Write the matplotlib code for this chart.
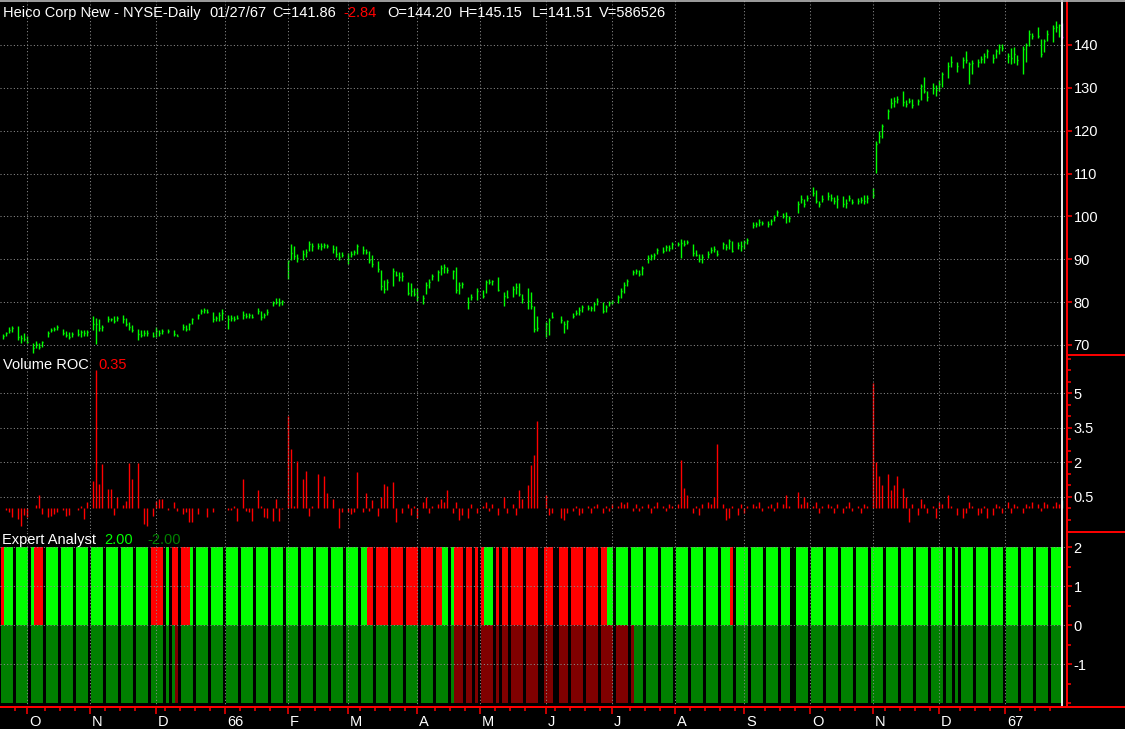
import numpy as np
import matplotlib
matplotlib.use("Agg")
import matplotlib.pyplot as plt
from matplotlib.lines import Line2D
from matplotlib.ticker import FixedLocator, MultipleLocator
import matplotlib.transforms as mtransforms

N = np.nan

# one row per week (5 day slots; empty slot = no trading)
highs = [
    72.6, 73.0, 74.1, 74.5, N,   74.4, 72.3, 72.7, 72.1, N,   70.4, 70.9, 70.4, 70.9, N,
    73.3, 74.0, 74.1, 74.7, N,   73.7, 73.3, 73.0, 73.1, N,   73.7, 73.5, 73.5, 73.5, N,
    76.7, 76.4, 76.0, 74.7, N,   76.7, 76.4, 76.7, 76.7, N,   77.0, 76.4, 75.4, 74.7, N,
    73.7, 73.6, 73.6, 73.6, N,   73.1, 74.1, 73.5, 73.7, N,   73.8, N, 73.5, 72.6, N,
    74.8, 74.7, 75.2, 76.4, N,   77.2, 78.5, 78.6, 78.5, N,   77.7, 76.7, 77.7, 78.3, N,
    77.1, 77.0, 76.7, 77.0, N,   77.9, 77.5, 77.4, 77.2, N,   78.6, 78.0, 77.4, 78.3, N,
    80.3, 80.9, 80.9, 80.6, N,   89.9, 93.6, 93.2, 91.3, N,   92.1, 92.5, 94.2, 93.8, N,
    93.9, 93.8, 93.8, 93.6, N,   93.3, 93.0, 91.7, 91.6, N,   91.5, 91.9, 92.1, 93.6, N,
    93.0, 92.5, 91.9, 90.9, N,   89.6, 87.4, 85.1, 85.5, N,   88.0, 87.3, 87.0, 87.0, N,
    84.7, 84.5, 83.2, 83.2, N,   81.6, 84.7, 85.5, 86.5, N,   87.4, 88.6, 88.8, 88.1, N,
    87.6, 88.1, 84.7, 84.7, N,   81.1, 82.0, N, 83.2, N,      82.8, 85.1, 85.5, 85.1, N,
    85.9, N, 82.4, 82.9, N,      83.7, 84.5, 84.5, 81.9, N,   83.2, 82.4, 79.1, 76.7, N,
    N, 75.4, 76.4, 77.6, N,      N, 76.7, 75.6, 75.8, N,      77.5, 78.1, 78.8, 79.3, N,
    79.3, 79.1, 80.1, 80.9, N,   80.1, 79.3, 80.3, 80.6, N,   81.6, 83.2, 84.7, 85.3, N,
    87.6, 87.8, 87.6, 88.4, N,   90.9, 91.3, 91.5, 92.7, N,   92.9, 93.3, 93.3, 94.0, N,
    94.0, 94.8, 94.6, 94.4, N,   93.5, 92.1, 91.2, 91.2, N,   91.9, 92.9, 93.0, 92.2, N,
    94.0, 93.6, 94.8, 94.3, N,   94.0, 94.3, 94.6, 95.0, N,   98.7, 98.7, 99.3, 98.9, N,
    98.9, 99.5, 100.3, 101.4, N, 100.8, 101.1, 100.2, N, N,   103.6, 104.9, 104.1, 104.9, N,
    106.8, 106.2, 103.7, 104.9, N, 105.7, 105.3, 104.5, 105.1, N, 104.7, 104.1, 105.1, 104.1, N,
    104.3, 104.5, 104.9, 104.9, N, 106.7, 117.7, 120.0, 121.6, N, 125.0, 127.6, 127.9, 128.1, N,
    129.3, 127.1, 127.6, 127.4, N, 127.4, 131.0, 132.6, 129.3, N, 131.2, 130.7, 131.8, 133.7, N,
    136.1, 137.4, N, 136.0, N,   137.1, 138.6, 136.1, 136.4, N, 136.7, 137.4, 138.2, 139.0, N,
    138.0, 139.0, 140.2, 140.2, N, 138.2, 139.4, 139.5, 137.7, N, 139.8, 140.5, 143.4, 142.9, N,
    144.2, 141.3, 141.3, 143.4, N, 144.7, 145.7, 144.8, 145.15,
]
lows = [
    71.3, 72.0, 72.7, 73.1, N,   71.2, 70.5, 71.0, 70.4, N,   68.2, 69.2, 69.1, 69.5, N,
    71.9, 73.1, 73.3, 73.6, N,   72.3, 71.8, 71.5, 71.9, N,   72.1, 71.9, 72.2, 72.1, N,
    73.5, 70.2, 73.3, 73.3, N,   75.4, 75.7, 75.2, 75.7, N,   75.2, 74.4, 73.5, 73.1, N,
    71.2, 71.8, 72.1, 72.2, N,   71.8, 71.8, 72.1, 72.6, N,   72.8, N, 72.1, 72.0, N,
    73.6, 73.3, 73.5, 75.0, N,   76.1, 77.2, 77.4, 77.5, N,   75.4, 75.7, 75.7, 75.8, N,
    73.8, 75.7, 75.7, 76.0, N,   76.1, 76.4, 76.4, 76.3, N,   77.2, 75.8, 76.4, 76.9, N,
    79.1, 79.5, 79.1, 79.3, N,   85.3, 89.9, 90.1, 89.4, N,   89.9, 90.5, 91.9, 91.9, N,
    92.5, 92.2, 92.7, 92.7, N,   91.5, 90.5, 89.9, 90.5, N,   89.0, 90.5, 90.9, 91.2, N,
    91.2, 91.2, 89.1, 88.2, N,   87.1, 82.9, 82.2, 82.9, N,   83.7, 86.0, 85.0, 85.0, N,
    81.6, 81.4, 81.4, 80.3, N,   79.5, 81.9, 83.4, 85.1, N,   85.0, 86.3, 86.7, 86.7, N,
    85.3, 82.2, 81.9, 83.4, N,   78.4, 80.5, N, 80.5, N,      80.9, 82.2, 84.2, 84.0, N,
    82.6, N, 79.1, 80.9, N,      81.2, 82.0, 81.4, 79.7, N,   78.5, 78.3, 73.1, 73.3, N,
    N, 71.8, 72.3, 76.2, N,      N, 75.2, 72.7, 73.7, N,      76.2, 77.0, 77.0, 77.8, N,
    78.1, 78.0, 78.0, 79.3, N,   77.5, 77.8, 79.1, 79.5, N,   79.8, 80.9, 82.2, 83.7, N,
    86.3, 86.5, 86.0, 86.3, N,   89.1, 89.9, 90.1, 91.2, N,   91.5, 91.9, 91.9, 92.5, N,
    93.0, 90.3, 93.0, 93.5, N,   90.7, 90.7, 89.4, 89.2, N,   90.4, 91.5, 91.7, 90.7, N,
    92.3, 92.1, 92.5, 91.7, N,   92.5, 91.9, 92.5, 93.6, N,   97.4, 97.6, 97.8, 98.1, N,
    97.6, 97.9, 98.9, 100.2, N,  99.7, 98.5, 98.7, N, N,      100.8, 103.1, 102.1, 103.6, N,
    104.7, 103.1, 102.2, 103.3, N, 103.9, 103.6, 102.9, 102.0, N, 102.2, 102.0, 103.7, 102.8, N,
    102.8, 103.1, 102.8, 103.1, N, 104.3, 110.1, 117.1, 118.3, N, 122.7, 125.3, 125.6, 126.4, N,
    125.8, 125.6, 126.4, 125.4, N, 126.0, 127.1, 128.7, 127.0, N, 128.5, 128.1, 129.3, 130.1, N,
    132.4, 134.9, N, 133.8, N,   134.6, 135.9, 131.0, 133.2, N, 134.9, 135.7, 135.9, 136.9, N,
    135.9, 136.9, 138.0, 138.5, N, 135.9, 135.5, 135.7, 135.3, N, 133.2, 136.1, 139.8, 141.3, N,
    141.7, 137.1, 138.4, 140.9, N, 140.8, 143.1, 141.9, 141.51,
]
closes = [
    72.2, 72.8, 73.6, 74.0, N,   71.8, 71.6, 71.5, 70.8, N,   69.4, 70.2, 69.6, 70.6, N,
    72.8, 73.5, 73.8, 74.3, N,   72.8, 72.3, 71.9, 72.6, N,   72.6, 73.0, 72.8, 73.1, N,
    75.0, 74.8, 74.0, 74.2, N,   76.0, 76.1, 75.6, 76.3, N,   76.0, 75.0, 74.2, 73.6, N,
    72.6, 72.4, 72.9, 72.8, N,   72.2, 73.2, 72.9, 73.3, N,   73.3, N, 72.6, 72.2, N,
    74.1, 73.7, 75.0, 76.1, N,   77.0, 78.0, 78.2, 77.8, N,   76.0, 76.2, 77.0, 77.5, N,
    76.0, 76.3, 76.0, 76.4, N,   77.0, 76.8, 76.9, 76.6, N,   78.0, 76.5, 77.0, 77.8, N,
    79.8, 80.1, 79.8, 80.2, N,   89.6, 91.5, 90.8, 90.2, N,   91.2, 91.8, 93.5, 93.0, N,
    93.2, 93.0, 93.3, 93.2, N,   92.4, 91.2, 90.6, 91.0, N,   90.0, 91.2, 91.6, 93.0, N,
    92.2, 91.8, 89.8, 88.8, N,   87.8, 83.8, 83.0, 84.8, N,   87.2, 86.4, 85.8, 86.2, N,
    82.2, 82.5, 82.0, 81.2, N,   81.0, 84.0, 84.6, 86.0, N,   87.0, 88.0, 88.2, 87.4, N,
    87.2, 82.8, 84.0, 84.2, N,   80.0, 81.2, N, 82.6, N,      81.5, 84.6, 84.8, 84.9, N,
    82.8, N, 81.5, 81.2, N,      83.0, 83.6, 82.0, 80.8, N,   80.2, 79.0, 73.8, 74.0, N,
    N, 74.8, 75.8, 76.5, N,      N, 75.8, 74.8, 75.5, N,      76.8, 77.5, 78.2, 78.8, N,
    78.6, 78.6, 79.5, 80.2, N,   78.0, 78.8, 79.8, 80.3, N,   81.2, 82.6, 84.0, 85.0, N,
    87.0, 87.2, 86.6, 88.0, N,   90.2, 90.8, 91.0, 92.2, N,   92.0, 92.8, 92.6, 93.6, N,
    93.6, 93.8, 93.5, 94.0, N,   91.5, 91.0, 90.0, 90.6, N,   91.3, 92.2, 92.5, 91.2, N,
    93.5, 92.8, 94.2, 92.0, N,   93.4, 93.0, 94.0, 94.6, N,   98.0, 98.3, 98.6, 98.5, N,
    98.2, 99.0, 99.8, 101.0, N,  100.2, 100.0, 99.6, N, N,    103.0, 104.0, 103.0, 104.3, N,
    105.5, 103.5, 103.0, 104.0, N, 104.8, 104.2, 103.5, 104.0, N, 103.0, 103.2, 104.2, 103.3, N,
    103.6, 103.8, 103.5, 104.2, N, 105.0, 117.0, 118.8, 121.2, N, 124.5, 126.5, 127.0, 127.5, N,
    126.8, 126.2, 127.0, 126.0, N, 127.0, 130.5, 129.2, 127.8, N, 130.0, 129.5, 131.0, 133.2, N,
    135.2, 136.0, N, 135.0, N,   136.5, 136.5, 135.5, 135.8, N, 136.0, 136.8, 137.5, 138.5, N,
    137.0, 138.5, 139.5, 139.3, N, 137.5, 137.0, 138.0, 136.5, N, 139.0, 140.0, 142.5, 142.0, N,
    142.2, 138.0, 141.0, 142.5, N, 144.0, 144.2, 144.7, 141.86,
]
volume_roc = [
    0.04, -0.05, -0.17, -0.35, N,  -0.46, -0.75, -0.29, -0.39, N,  0.02, 0.14, 0.58, -0.25, N,
    -0.39, -0.32, -0.25, -0.17, N, -0.06, -0.32, -0.29, 0.04, N,   -0.06, 0.12, -0.46, 0.29, N,
    1.20, 6.03, 1.06, 1.93, N,     0.84, 0.84, -0.29, 0.48, N,     0.14, 0.33, 1.99, 1.28, N,
    1.99, 0.04, -0.68, -0.75, N,   -0.32, 0.33, 0.41, 0.43, N,     -0.06, N, 0.29, -0.10, N,
    -0.25, -0.17, -0.58, -0.58, N, -0.25, 0.04, 0.04, -0.39, N,    -0.17, 0.04, 0.04, 0.02, N,
    -0.06, -0.06, 0.09, -0.54, N,  1.28, -0.10, -0.17, -0.54, N,   0.81, 0.12, -0.39, -0.43, N,
    -0.54, 0.43, -0.54, -0.03, N,  4.00, 2.58, 0.12, 2.06, N,      1.28, 1.64, -0.32, 0.12, N,
    1.50, 0.04, 1.43, 0.67, N,     0.40, 0.04, -0.83, -0.14, N,    -0.14, -0.25, -0.17, 1.58, N,
    -0.17, 0.67, -0.10, 0.36, N,   -0.32, 0.48, 1.06, 0.96, N,     1.14, -0.58, 0.00, -0.20, N,
    0.20, -0.30, 0.10, -0.40, N,   0.30, 0.50, -0.20, 0.10, N,     0.20, 0.40, 0.30, 0.80, N,
    -0.20, 0.30, -0.50, -0.30, N,  -0.40, 0.20, N, -0.20, N,       0.10, 0.30, -0.10, 0.20, N,
    -0.30, N, 0.50, -0.20, N,      0.20, -0.30, 0.80, 0.40, N,     1.00, 1.90, 2.30, 3.80, N,
    N, 0.60, -0.30, -0.20, N,      N, -0.40, -0.50, -0.20, N,      -0.10, 0.10, -0.30, -0.20, N,
    0.10, -0.20, 0.10, 0.20, N,    -0.20, 0.10, -0.10, 0.20, N,    0.10, 0.30, 0.20, 0.30, N,
    -0.10, 0.20, -0.10, 0.10, N,   0.20, -0.20, 0.10, 0.30, N,     0.10, -0.10, 0.20, 0.10, N,
    0.20, 2.10, 0.90, 0.60, N,     -0.20, 0.10, -0.30, 0.20, N,    0.30, 0.20, 0.50, 2.80, N,
    0.20, -0.50, -0.40, 0.10, N,   -0.30, 0.20, -0.20, 0.10, N,    0.20, 0.10, 0.30, -0.10, N,
    0.10, 0.20, -0.10, 0.30, N,    0.20, 0.60, 0.10, N, N,         0.70, 0.20, 0.50, 0.30, N,
    0.10, 0.30, -0.20, 0.10, N,    0.20, 0.10, -0.20, 0.20, N,     -0.20, 0.10, 0.30, -0.10, N,
    0.10, -0.20, 0.20, 0.10, N,    5.45, 2.00, 1.40, 1.00, N,      1.50, 0.80, 1.00, 1.40, N,
    0.90, 0.50, -0.60, 0.20, N,    -0.30, 0.40, 0.20, -0.20, N,    0.10, -0.40, 0.30, 0.20, N,
    0.60, 0.10, N, -0.30, N,       -0.40, -0.20, 0.30, 0.10, N,    -0.30, -0.20, 0.10, -0.40, N,
    -0.30, 0.20, 0.10, -0.20, N,   0.30, -0.20, 0.20, 0.10, N,     -0.20, 0.20, 0.10, 0.30, N,
    0.20, -0.10, 0.30, 0.20, N,    0.10, 0.30, 0.20, 0.35,
]
# Expert Analyst signal per day slot: upper half (G=buy, R=sell), lower half (g / r)
ea_upper = """
RGGG. GGGG. GRRR. GGGG. GGGG. GGGG. GGGG. GGGG. GGGG. GGGG.
RRRR. G.RR. RRRG. GGGG. GGGG. GGGG. GGGG. GGGG. GGGG. GGGG.
GGGG. GGGG. GGGG. GGGG. GGRR. RRRR. RRRR. RRRR. RRRR. RRGG.
GRRR. RR.R. RGGG. R.RR. RRRR. RRRR. .RRR. .RRR. RRRR. RRRR.
RRGG. GGGG. GGGG. GGGG. GGGG. GGGG. GGGG. GGGG. GGGR. GGGG.
GGGG. GGGG. GGG.. GGGG. GGGG. GGGG. GGGG. GGGG. GGGG. GGGG.
GGGG. GGGG. GGGG. GG.G. GGGG. GGGG. GGGG. GGGG. GGGG. GGGG.
GGGG
"""
ea_lower = """
gggg. gggg. gggg. gggg. gggg. gggg. gggg. gggg. gggg. gggg.
gggg. g.gr. gggg. gggg. gggg. gggg. gggg. gggg. gggg. gggg.
gggg. gggg. gggg. gggg. gggg. gggg. gggg. gggg. gggg. gggg.
grrr. rr.r. rrrr. r.rr. rrrr. rrrr. .rrr. .rrr. rrrr. rrrr.
rrrr. rrrr. rggg. gggg. gggg. gggg. gggg. gggg. gggg. gggg.
gggg. gggg. ggg.. gggg. gggg. gggg. gggg. gggg. gggg. gggg.
gggg. gggg. gggg. gg.g. gggg. gggg. gggg. gggg. gggg. gggg.
gggg
"""
month_labels = ["O", "N", "D", "66", "F", "M", "A", "M", "J", "J", "A", "S", "O", "N", "D", "67"]
month_slots = [8, 29, 51, 74, 95, 115, 138, 159, 181, 203, 224, 247, 269, 290, 312, 334]
price_ticks = [70, 80, 90, 100, 110, 120, 130, 140]
vroc_ticks = [0.5, 2, 3.5, 5]
vroc_labels = ["0.5", "2", "3.5", "5"]
ea_ticks = [-1, 0, 1, 2]

# ------------------------------------------------------------------
highs = np.array(highs, float)
lows = np.array(lows, float)
closes = np.array(closes, float)
volume_roc = np.array(volume_roc, float)
up = "".join(ea_upper.split())
lo = "".join(ea_lower.split())
n = len(highs)
x = np.arange(n)

W, H = 1125, 729
fig = plt.figure(figsize=(W / 100, H / 100), dpi=100, facecolor="black")
FONT = "Liberation Sans"
FS = 10.5
RED = "#ff0000"
GRID = "#8c8c8c"
DOT = (0, (1, 2.2))

def rect(x0, y0, x1, y1):
    return [x0 / W, 1 - y1 / H, (x1 - x0) / W, (y1 - y0) / H]

XR = 1066.5
xlim = (-2.5 / 3, (XR - 2.5) / 3)
ax_p = fig.add_axes(rect(0, 0, XR, 355.5))
ax_v = fig.add_axes(rect(0, 355.5, XR, 531.5))
ax_e = fig.add_axes(rect(0, 531.5, XR, 707))

for ax in (ax_p, ax_v, ax_e):
    ax.set_facecolor("black")
    ax.set_xlim(*xlim)
    for s in ("top", "left", "bottom"):
        ax.spines[s].set_visible(False)
    ax.spines["right"].set_color(RED)
    ax.spines["right"].set_linewidth(1.4)
    ax.yaxis.tick_right()
    ax.tick_params(axis="y", which="both", direction="out", color=RED,
                   labelcolor="white", labelsize=FS, pad=1.5)
    ax.tick_params(axis="y", which="major", length=3.6, width=1.1)
    ax.tick_params(axis="y", which="minor", length=2.8, width=1.1)
    for lab in ax.get_yticklabels():
        lab.set_fontfamily(FONT)
    for ms in month_slots:
        ax.axvline(ms, color=GRID, lw=0.75, ls=DOT, zorder=4)
    ax.axvline((1061.8 - 2.5) / 3, color="white", lw=1.3, zorder=6)

# ---- price panel
ax_p.set_ylim(67.55, 150.5)
for p in price_ticks:
    ax_p.axhline(p, color=GRID, lw=0.75, ls=DOT, zorder=1)
valid = ~np.isnan(highs)
bar_col = np.where(x == n - 1, "#b400b4", "#00ff00")
ax_p.vlines(x[valid], lows[valid], highs[valid], colors=bar_col[valid], lw=1.0, zorder=3)
ax_p.hlines(closes[valid], x[valid], x[valid] + 0.62, colors=bar_col[valid], lw=1.0, zorder=3)
ax_p.yaxis.set_major_locator(FixedLocator(price_ticks))
ax_p.set_yticklabels([str(p) for p in price_ticks], fontfamily=FONT)
ax_p.set_xticks([])

# ---- volume ROC panel
ax_v.set_ylim(-1.0, 6.64)
for v in vroc_ticks:
    ax_v.axhline(v, color=GRID, lw=0.75, ls=DOT, zorder=1)
vv = ~np.isnan(volume_roc)
vcol = np.where(x == n - 1, "#00a0a0", RED)
ax_v.vlines(x[vv], 0, volume_roc[vv], colors=vcol[vv], lw=1.0, zorder=3)
ax_v.yaxis.set_major_locator(FixedLocator(vroc_ticks))
ax_v.set_yticklabels(vroc_labels, fontfamily=FONT)
ax_v.yaxis.set_minor_locator(MultipleLocator(0.5))
ax_v.set_xticks([])

# ---- Expert Analyst panel
ax_e.set_ylim(-2.095, 2.405)
cu = {"G": "#00ff00", "R": "#ff0000"}
cl = {"g": "#008000", "r": "#800000"}
iu = [i for i, c in enumerate(up) if c in cu]
il = [i for i, c in enumerate(lo) if c in cl]
ax_e.bar(iu, [2] * len(iu), bottom=0, width=1.0, color=[cu[up[i]] for i in iu],
         linewidth=0, antialiased=False, zorder=2)
ax_e.bar(il, [-2] * len(il), bottom=0, width=1.0, color=[cl[lo[i]] for i in il],
         linewidth=0, antialiased=False, zorder=2)
for v in ea_ticks[::-1]:
    ax_e.axhline(v, color=GRID, lw=0.75, ls=DOT, zorder=4)
ax_e.yaxis.set_major_locator(FixedLocator(ea_ticks))
ax_e.set_yticklabels([str(v) for v in ea_ticks], fontfamily=FONT)
ax_e.yaxis.set_minor_locator(MultipleLocator(0.5))

ax_e.spines["bottom"].set_visible(True)
ax_e.spines["bottom"].set_color(RED)
ax_e.spines["bottom"].set_linewidth(1.4)
ax_e.set_xticks(month_slots)
ax_e.set_xticklabels(month_labels, fontfamily=FONT, fontsize=FS, color="white", ha="left")
ax_e.set_xticks([s for s in range(4, n, 5) if min(abs(s - m) for m in month_slots) > 2], minor=True)
ax_e.tick_params(axis="x", which="major", direction="out", color=RED, length=5.2, width=1.1, pad=0.3)
ax_e.tick_params(axis="x", which="minor", direction="out", color=RED, length=3.2, width=1.1)
off = mtransforms.ScaledTranslation(2.5 / 100, 0, fig.dpi_scale_trans)
for lab in ax_e.get_xticklabels():
    lab.set_transform(lab.get_transform() + off)

# ---- frame lines in right margin and bottom
def fline(x0, y0, x1, y1, **kw):
    fig.add_artist(Line2D([x0 / W, x1 / W], [1 - y0 / H, 1 - y1 / H], **kw))

fline(XR, 355.5, W, 355.5, color=RED, lw=1.4)
fline(XR, 531.5, W, 531.5, color=RED, lw=1.4)
fline(0, 707, W, 707, color=RED, lw=1.4)
fline(0, 0.6, W, 0.6, color="#b8b8b8", lw=1.2)

# ---- header texts
def ftext(px, py, s, color="white"):
    fig.text(px / W, 1 - py / H, s, color=color, fontsize=FS, fontfamily=FONT,
             ha="left", va="baseline")

ftext(3, 17, "Heico Corp New - NYSE-Daily")
ftext(209, 17, "01/27/67")
ftext(272, 17, "C=141.86")
ftext(343, 17, "-2.84", RED)
ftext(387, 17, "O=144.20")
ftext(459, 17, "H=145.15")
ftext(532, 17, "L=141.51")
ftext(599, 17, "V=586526")
ftext(3, 368.5, "Volume ROC")
ftext(98, 368.5, "0.35", RED)
ftext(2, 544, "Expert Analyst")
ftext(104, 544, "2.00", "#00ff00")
ftext(147, 544, "-2.00", "#008000")

fig.savefig("out.png", dpi=100, facecolor="black")
